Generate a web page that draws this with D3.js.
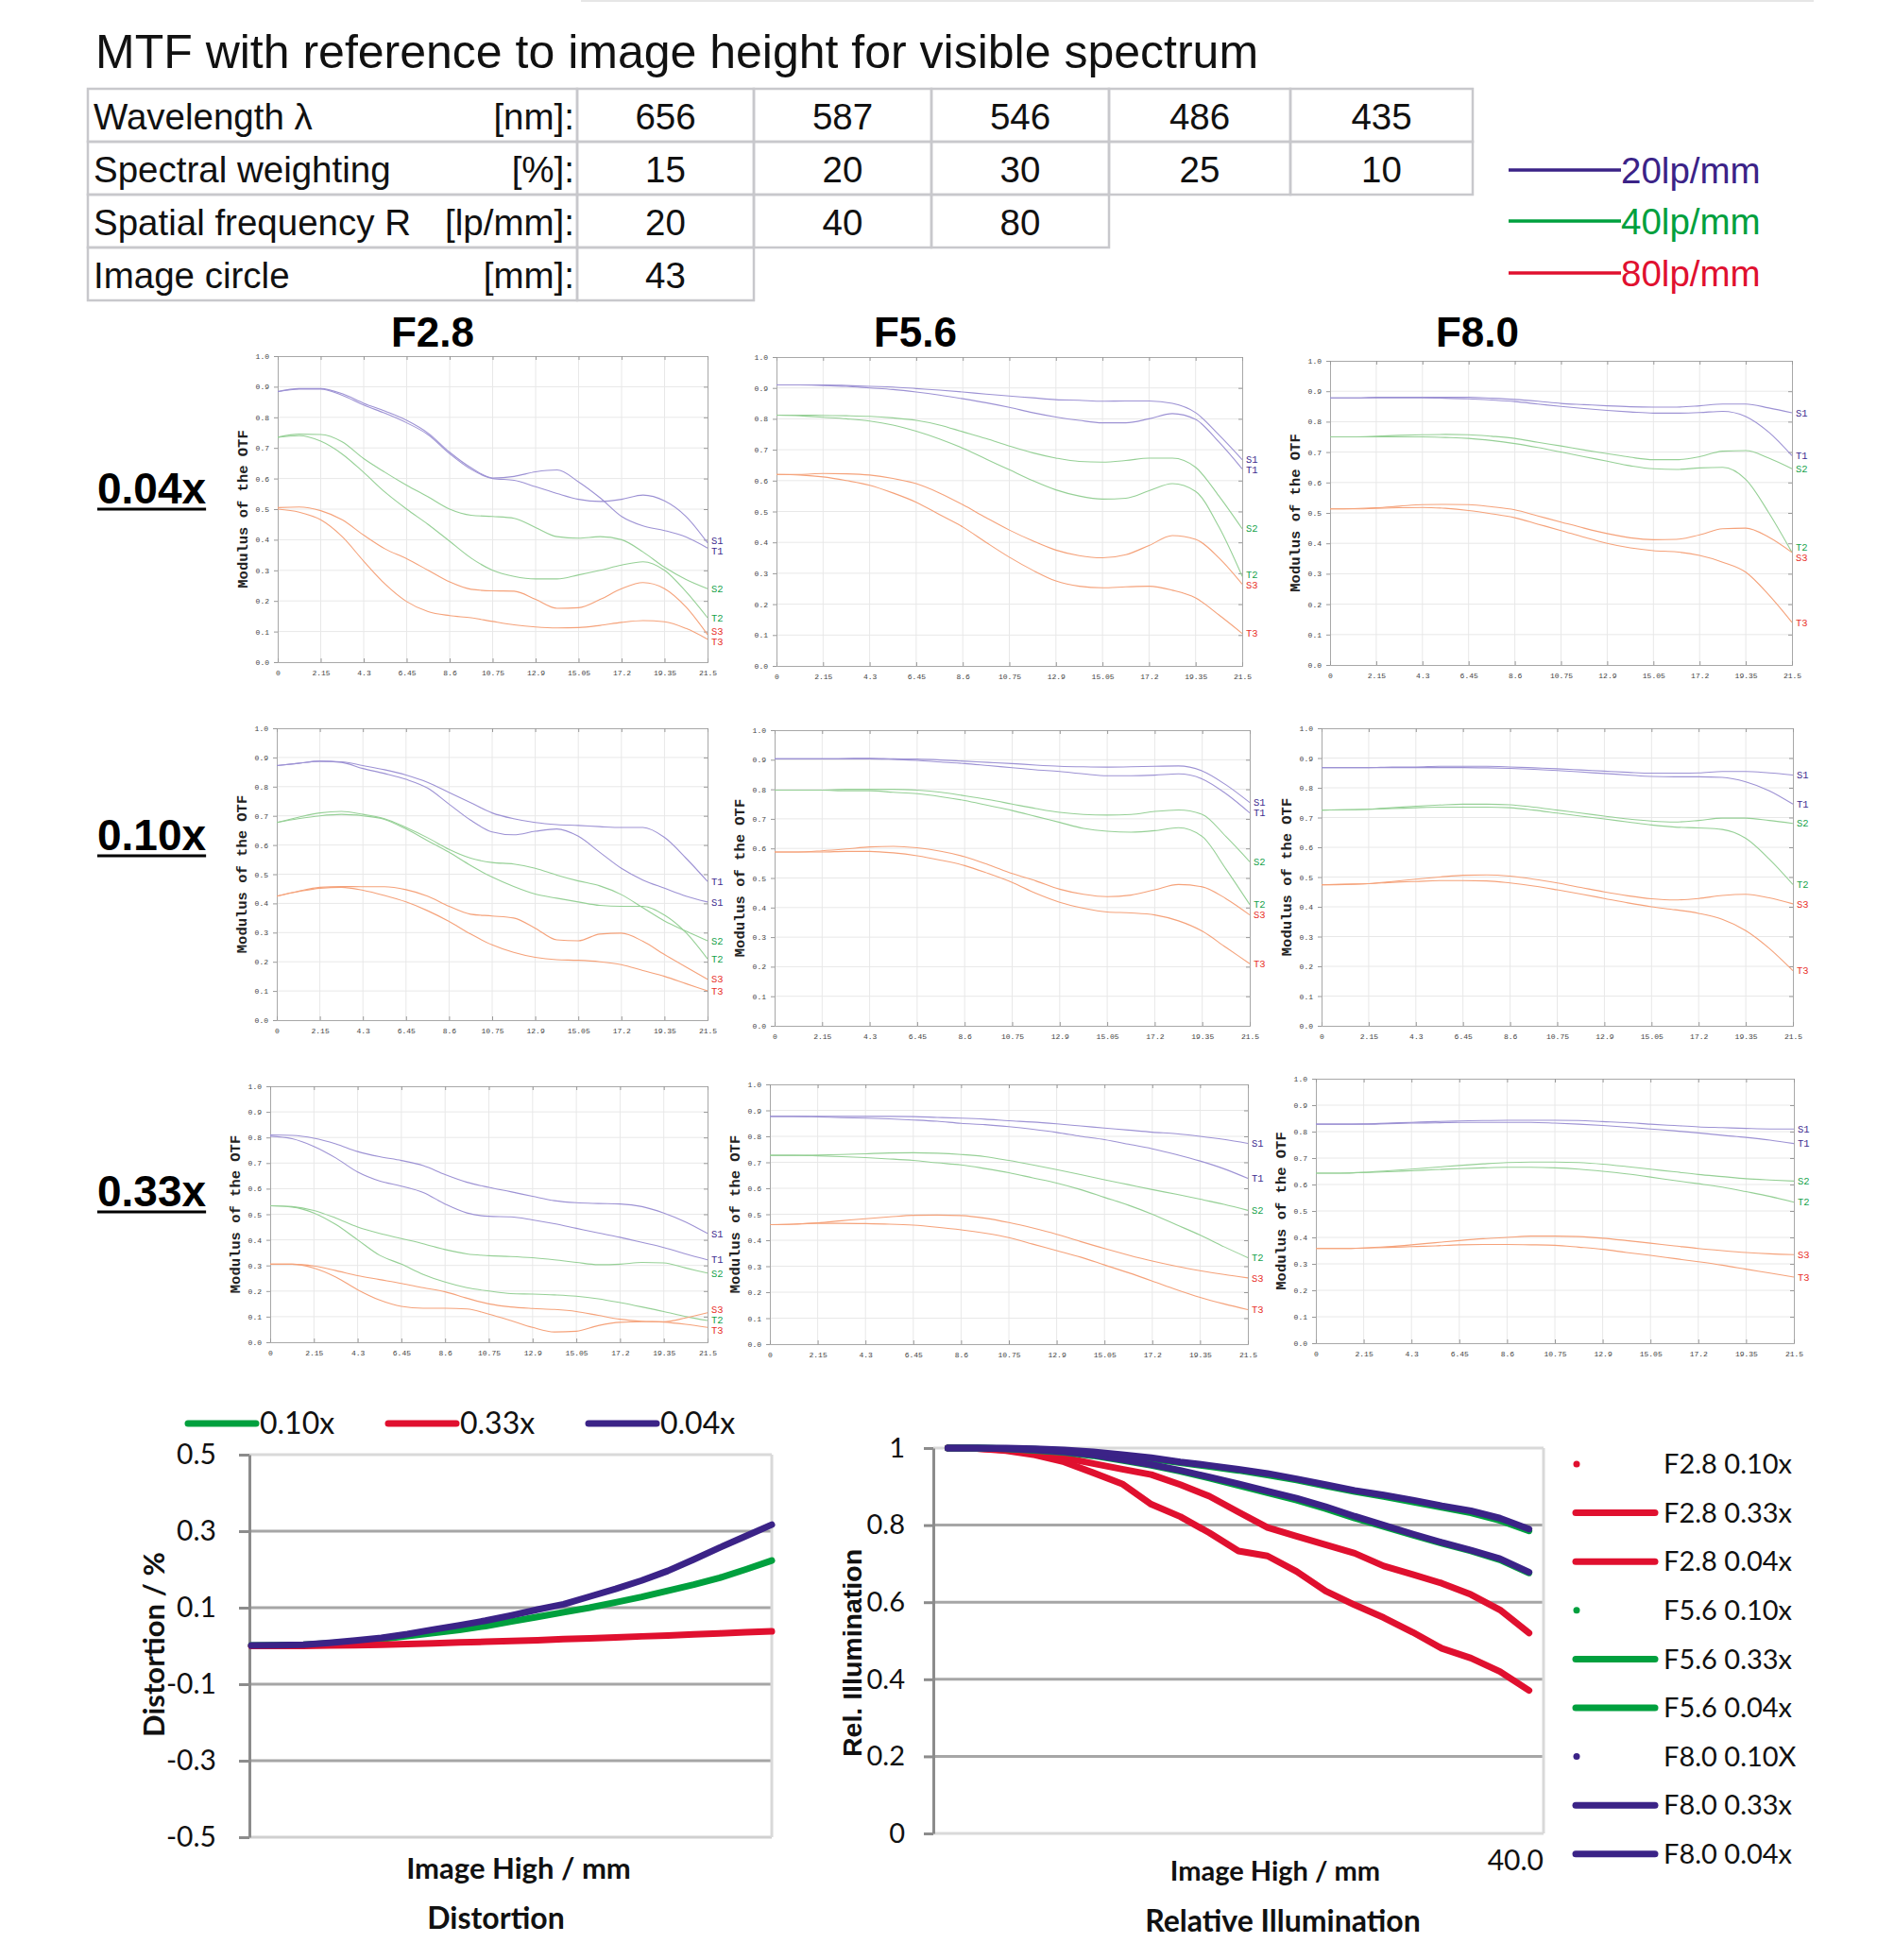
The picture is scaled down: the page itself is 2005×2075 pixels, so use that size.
<!DOCTYPE html>
<html><head><meta charset="utf-8">
<script src="https://cdn.jsdelivr.net/npm/d3@7"></script>
<style>body{margin:0;background:#fff}</style>
</head><body>
<svg id="c" width="2005" height="2075"></svg>
<script>
// ---------------- DATA ----------------
const titleText = "MTF with reference to image height for visible spectrum";
const tableLabels = ["Wavelength λ", "Spectral weighting", "Spatial frequency R", "Image circle"];
const tableUnits = ["[nm]:", "[%]:", "[lp/mm]:", "[mm]:"];
const wavelengths = ["656", "587", "546", "486", "435"];
const weights = ["15", "20", "30", "25", "10"];
const spatialFreq = ["20", "40", "80"];
const imageCircle = ["43"];
const lpLegend = ["20lp/mm", "40lp/mm", "80lp/mm"];
const apertures = ["F2.8", "F5.6", "F8.0"];
const magnifications = ["0.04x", "0.10x", "0.33x"];

const mtfXTickVals = [0, 2.15, 4.3, 6.45, 8.6, 10.75, 12.9, 15.05, 17.2, 19.35, 21.5];
const mtfXTickLabels = ["0", "2.15", "4.3", "6.45", "8.6", "10.75", "12.9", "15.05", "17.2", "19.35", "21.5"];
const mtfYTickVals = [0, 0.1, 0.2, 0.3, 0.4, 0.5, 0.6, 0.7, 0.8, 0.9, 1.0];
const mtfYTickLabels = ["0.0", "0.1", "0.2", "0.3", "0.4", "0.5", "0.6", "0.7", "0.8", "0.9", "1.0"];
// image height sample positions (mm)
const imageHeights = [0, 1.075, 2.15, 3.225, 4.3, 5.375, 6.45, 7.525, 8.6, 9.675, 10.75, 11.825, 12.9, 13.975, 15.05, 16.125, 17.2, 18.275, 19.35, 20.425, 21.5];
const seriesNames = ["S1", "T1", "S2", "T2", "S3", "T3"];

const mtf_F28_004 = {
  S1: [0.884,0.892,0.892,0.872,0.84,0.813,0.782,0.743,0.681,0.63,0.60,0.594,0.573,0.551,0.532,0.525,0.532,0.546,0.527,0.476,0.39],
  T1: [0.884,0.894,0.894,0.877,0.846,0.82,0.79,0.748,0.686,0.635,0.602,0.607,0.622,0.628,0.589,0.537,0.476,0.445,0.43,0.409,0.373],
  S2: [0.735,0.745,0.744,0.72,0.665,0.62,0.578,0.54,0.50,0.48,0.476,0.47,0.44,0.41,0.405,0.41,0.40,0.36,0.31,0.27,0.24],
  T2: [0.735,0.74,0.722,0.68,0.62,0.555,0.50,0.45,0.395,0.34,0.30,0.28,0.272,0.272,0.285,0.30,0.317,0.328,0.30,0.23,0.145],
  S3: [0.505,0.507,0.495,0.465,0.415,0.37,0.338,0.30,0.262,0.238,0.233,0.232,0.205,0.176,0.178,0.205,0.24,0.26,0.24,0.18,0.09],
  T3: [0.50,0.49,0.465,0.41,0.33,0.255,0.198,0.165,0.152,0.145,0.133,0.122,0.115,0.112,0.113,0.12,0.13,0.136,0.132,0.11,0.075]
};
const mtf_F56_004 = {
  S1: [0.91,0.91,0.91,0.908,0.905,0.903,0.898,0.893,0.887,0.88,0.874,0.868,0.862,0.86,0.857,0.858,0.858,0.85,0.82,0.748,0.668],
  T1: [0.91,0.91,0.908,0.905,0.90,0.895,0.887,0.877,0.865,0.852,0.837,0.82,0.806,0.795,0.787,0.787,0.80,0.817,0.798,0.725,0.638],
  S2: [0.812,0.812,0.811,0.81,0.808,0.803,0.795,0.78,0.758,0.736,0.712,0.69,0.673,0.662,0.66,0.665,0.673,0.673,0.643,0.55,0.444],
  T2: [0.812,0.81,0.805,0.80,0.793,0.78,0.76,0.735,0.705,0.67,0.635,0.60,0.57,0.55,0.54,0.543,0.567,0.59,0.565,0.45,0.29],
  S3: [0.62,0.62,0.623,0.622,0.618,0.607,0.59,0.56,0.522,0.48,0.44,0.405,0.375,0.357,0.35,0.36,0.39,0.422,0.41,0.35,0.265],
  T3: [0.62,0.618,0.612,0.60,0.585,0.56,0.53,0.49,0.45,0.40,0.352,0.31,0.275,0.258,0.253,0.256,0.258,0.245,0.22,0.165,0.105]
};
const mtf_F80_004 = {
  S1: [0.878,0.878,0.88,0.88,0.88,0.88,0.88,0.877,0.873,0.867,0.86,0.856,0.852,0.849,0.848,0.848,0.852,0.858,0.858,0.845,0.829],
  T1: [0.878,0.878,0.878,0.878,0.878,0.877,0.875,0.871,0.866,0.858,0.85,0.843,0.837,0.832,0.828,0.828,0.83,0.834,0.817,0.765,0.688],
  S2: [0.75,0.75,0.752,0.755,0.757,0.758,0.757,0.752,0.745,0.732,0.72,0.707,0.695,0.683,0.675,0.675,0.685,0.703,0.705,0.68,0.645],
  T2: [0.75,0.75,0.75,0.75,0.75,0.748,0.745,0.738,0.728,0.715,0.70,0.685,0.67,0.655,0.645,0.643,0.648,0.65,0.61,0.50,0.37],
  S3: [0.513,0.514,0.517,0.522,0.527,0.528,0.527,0.52,0.51,0.49,0.47,0.45,0.432,0.418,0.412,0.413,0.428,0.448,0.45,0.42,0.37],
  T3: [0.513,0.513,0.515,0.517,0.518,0.515,0.508,0.497,0.484,0.463,0.442,0.42,0.40,0.385,0.376,0.372,0.36,0.338,0.305,0.23,0.14]
};
const mtf_F28_010 = {
  S1: [0.872,0.88,0.887,0.883,0.862,0.845,0.825,0.795,0.74,0.685,0.645,0.635,0.647,0.655,0.63,0.575,0.52,0.48,0.452,0.425,0.405],
  T1: [0.872,0.88,0.887,0.885,0.872,0.858,0.84,0.815,0.78,0.745,0.71,0.69,0.677,0.67,0.667,0.663,0.66,0.66,0.626,0.555,0.475],
  S2: [0.677,0.695,0.71,0.715,0.705,0.69,0.66,0.625,0.585,0.555,0.54,0.535,0.52,0.497,0.477,0.46,0.43,0.385,0.34,0.305,0.272],
  T2: [0.677,0.69,0.70,0.705,0.70,0.688,0.655,0.615,0.575,0.53,0.49,0.458,0.432,0.418,0.405,0.393,0.39,0.39,0.36,0.30,0.21],
  S3: [0.425,0.442,0.455,0.458,0.457,0.457,0.447,0.425,0.39,0.363,0.357,0.35,0.315,0.275,0.272,0.295,0.298,0.27,0.225,0.182,0.14],
  T3: [0.425,0.44,0.452,0.455,0.445,0.427,0.405,0.375,0.338,0.295,0.258,0.232,0.215,0.207,0.205,0.20,0.19,0.17,0.15,0.125,0.10]
};
const mtf_F56_010 = {
  S1: [0.903,0.903,0.903,0.904,0.905,0.903,0.902,0.899,0.895,0.891,0.887,0.882,0.878,0.876,0.875,0.876,0.878,0.879,0.862,0.815,0.755],
  T1: [0.903,0.903,0.903,0.903,0.903,0.901,0.898,0.892,0.887,0.88,0.873,0.866,0.86,0.852,0.846,0.846,0.848,0.852,0.835,0.785,0.72],
  S2: [0.797,0.797,0.797,0.80,0.80,0.80,0.797,0.79,0.778,0.765,0.75,0.735,0.722,0.715,0.713,0.715,0.725,0.73,0.715,0.64,0.555],
  T2: [0.797,0.797,0.797,0.795,0.795,0.79,0.785,0.775,0.762,0.745,0.728,0.708,0.688,0.668,0.658,0.655,0.66,0.67,0.64,0.53,0.41],
  S3: [0.588,0.588,0.592,0.598,0.605,0.607,0.602,0.59,0.572,0.545,0.515,0.49,0.462,0.445,0.437,0.442,0.46,0.478,0.47,0.43,0.375],
  T3: [0.588,0.588,0.588,0.59,0.59,0.585,0.575,0.56,0.542,0.515,0.485,0.448,0.418,0.398,0.385,0.382,0.375,0.355,0.32,0.265,0.21]
};
const mtf_F80_010 = {
  S1: [0.868,0.868,0.868,0.87,0.87,0.872,0.872,0.872,0.87,0.867,0.864,0.86,0.856,0.852,0.849,0.849,0.85,0.855,0.855,0.85,0.843],
  T1: [0.868,0.868,0.868,0.868,0.868,0.868,0.868,0.867,0.865,0.862,0.858,0.853,0.848,0.843,0.838,0.837,0.837,0.835,0.82,0.79,0.745],
  S2: [0.725,0.726,0.728,0.733,0.738,0.742,0.745,0.745,0.743,0.735,0.725,0.715,0.705,0.695,0.688,0.685,0.69,0.698,0.698,0.69,0.68],
  T2: [0.725,0.726,0.728,0.73,0.733,0.735,0.735,0.735,0.733,0.725,0.715,0.705,0.695,0.685,0.675,0.668,0.665,0.66,0.63,0.56,0.475],
  S3: [0.474,0.475,0.478,0.485,0.493,0.50,0.506,0.507,0.503,0.493,0.48,0.465,0.45,0.437,0.427,0.423,0.428,0.438,0.442,0.43,0.41],
  T3: [0.474,0.476,0.478,0.482,0.485,0.488,0.488,0.487,0.48,0.47,0.457,0.443,0.428,0.413,0.40,0.39,0.378,0.358,0.32,0.26,0.185]
};
const mtf_F28_033 = {
  S1: [0.81,0.808,0.797,0.775,0.745,0.725,0.71,0.69,0.655,0.625,0.605,0.588,0.57,0.553,0.545,0.542,0.54,0.53,0.505,0.47,0.425],
  T1: [0.805,0.795,0.765,0.72,0.665,0.63,0.61,0.585,0.54,0.505,0.492,0.49,0.478,0.463,0.445,0.427,0.41,0.39,0.37,0.345,0.322],
  S2: [0.533,0.53,0.515,0.485,0.45,0.425,0.405,0.385,0.362,0.345,0.338,0.335,0.33,0.322,0.312,0.303,0.305,0.312,0.31,0.29,0.27],
  T2: [0.533,0.528,0.505,0.46,0.40,0.34,0.305,0.265,0.235,0.213,0.20,0.19,0.188,0.185,0.18,0.17,0.155,0.138,0.12,0.10,0.085],
  S3: [0.305,0.305,0.29,0.255,0.205,0.165,0.14,0.133,0.133,0.13,0.11,0.085,0.058,0.04,0.043,0.065,0.078,0.08,0.08,0.095,0.115],
  T3: [0.305,0.305,0.298,0.28,0.26,0.245,0.23,0.213,0.197,0.172,0.15,0.138,0.132,0.128,0.12,0.105,0.09,0.082,0.079,0.07,0.058]
};
const mtf_F56_033 = {
  S1: [0.877,0.877,0.877,0.877,0.877,0.877,0.876,0.873,0.87,0.866,0.86,0.855,0.848,0.84,0.832,0.824,0.816,0.81,0.80,0.788,0.773],
  T1: [0.877,0.877,0.875,0.872,0.87,0.867,0.863,0.858,0.85,0.845,0.837,0.827,0.815,0.80,0.787,0.77,0.752,0.73,0.705,0.675,0.638],
  S2: [0.727,0.727,0.728,0.73,0.733,0.736,0.737,0.735,0.73,0.722,0.707,0.69,0.672,0.653,0.633,0.614,0.595,0.577,0.558,0.538,0.515],
  T2: [0.727,0.727,0.725,0.722,0.718,0.713,0.707,0.698,0.69,0.676,0.66,0.64,0.62,0.595,0.565,0.535,0.50,0.46,0.42,0.375,0.333],
  S3: [0.46,0.462,0.467,0.475,0.483,0.49,0.496,0.497,0.495,0.485,0.468,0.447,0.423,0.395,0.368,0.343,0.32,0.30,0.283,0.268,0.255],
  T3: [0.46,0.462,0.465,0.465,0.464,0.462,0.458,0.45,0.44,0.427,0.41,0.385,0.36,0.335,0.305,0.275,0.243,0.21,0.18,0.155,0.133]
};
const mtf_F80_033 = {
  S1: [0.828,0.828,0.829,0.832,0.835,0.838,0.84,0.842,0.843,0.843,0.843,0.842,0.838,0.834,0.828,0.823,0.818,0.815,0.812,0.81,0.81],
  T1: [0.828,0.828,0.828,0.83,0.832,0.833,0.835,0.835,0.835,0.835,0.832,0.828,0.823,0.817,0.81,0.803,0.795,0.786,0.778,0.768,0.755],
  S2: [0.643,0.643,0.646,0.652,0.658,0.665,0.672,0.678,0.683,0.685,0.685,0.683,0.677,0.668,0.658,0.648,0.638,0.63,0.622,0.617,0.613],
  T2: [0.643,0.643,0.645,0.648,0.652,0.656,0.66,0.663,0.665,0.665,0.663,0.658,0.65,0.64,0.628,0.615,0.603,0.59,0.573,0.555,0.533],
  S3: [0.358,0.358,0.36,0.365,0.372,0.38,0.388,0.395,0.40,0.405,0.405,0.403,0.397,0.388,0.378,0.368,0.358,0.35,0.343,0.338,0.335],
  T3: [0.358,0.358,0.36,0.362,0.365,0.368,0.372,0.373,0.373,0.372,0.37,0.363,0.355,0.343,0.332,0.32,0.308,0.295,0.28,0.265,0.25]
};

// Distortion (%), samples across image height
const distortionLegend = ["0.10x", "0.33x", "0.04x"];
const distortion010 = [0.001,0.002,0.003,0.007,0.012,0.018,0.026,0.034,0.042,0.052,0.064,0.076,0.088,0.100,0.114,0.128,0.144,0.160,0.178,0.200,0.223];
const distortion033 = [0.0,0.0,0.0,0.001,0.002,0.003,0.005,0.007,0.009,0.011,0.013,0.015,0.018,0.020,0.022,0.025,0.027,0.030,0.033,0.036,0.038];
const distortion004 = [0.001,0.002,0.003,0.008,0.014,0.021,0.031,0.043,0.054,0.066,0.080,0.095,0.109,0.129,0.149,0.171,0.196,0.226,0.257,0.287,0.317];
const distortionTicks = [0.5, 0.3, 0.1, -0.1, -0.3, -0.5];

// Relative illumination
const relLegend = ["F2.8 0.10x","F2.8 0.33x","F2.8 0.04x","F5.6 0.10x","F5.6 0.33x","F5.6 0.04x","F8.0 0.10X","F8.0 0.33x","F8.0 0.04x"];
const relF28_033 = [1.0,0.999,0.993,0.982,0.964,0.936,0.907,0.854,0.822,0.78,0.733,0.72,0.68,0.629,0.593,0.56,0.522,0.48,0.455,0.42,0.371];
const relF28_004 = [1.0,0.999,0.995,0.987,0.975,0.96,0.945,0.931,0.905,0.875,0.834,0.794,0.771,0.749,0.727,0.694,0.672,0.649,0.62,0.58,0.52];
const relF56_033 = [1.0,1.0,0.998,0.994,0.989,0.98,0.968,0.955,0.94,0.922,0.903,0.884,0.865,0.843,0.818,0.796,0.774,0.753,0.733,0.71,0.676];
const relF56_004 = [1.0,1.0,0.999,0.997,0.993,0.988,0.981,0.972,0.962,0.952,0.942,0.93,0.917,0.902,0.887,0.874,0.86,0.846,0.832,0.812,0.785];
const relF80_033 = [1.0,1.0,0.998,0.995,0.99,0.982,0.97,0.957,0.942,0.925,0.907,0.888,0.87,0.848,0.823,0.80,0.777,0.755,0.735,0.713,0.678];
const relF80_004 = [1.0,1.0,1.0,0.998,0.995,0.99,0.983,0.975,0.964,0.955,0.945,0.934,0.92,0.905,0.89,0.878,0.865,0.85,0.837,0.818,0.79];
const relTickVals = [0, 0.2, 0.4, 0.6, 0.8, 1];
const relTickLabels = ["0", "0.2", "0.4", "0.6", "0.8", "1"];

// ---------------- STYLE ----------------
const PURPLE = "#3b2387", GREEN = "#00a03e", RED = "#e0102f";
const lineCol = {S1:"#9d92d4", T1:"#9d92d4", S2:"#96d096", T2:"#96d096", S3:"#f5a27a", T3:"#f5a27a"};
const labCol = {S1:"#3c2a8e", T1:"#3c2a8e", S2:"#14a24a", T2:"#14a24a", S3:"#e8302a", T3:"#e8302a"};
const ARIAL = "'Liberation Sans', Arial, sans-serif";
const CAL = "Lato, 'Open Sans', sans-serif";
const MONO = "'Liberation Mono', 'DejaVu Sans Mono', monospace";

const svg = d3.select("#c");
svg.append("rect").attr("width", 2005).attr("height", 2075).attr("fill", "#fff");
svg.append("line").attr("x1", 615).attr("x2", 1920).attr("y1", 1).attr("y2", 1)
  .attr("stroke", "#e6e6e6").attr("stroke-width", 2);

// Title
svg.append("text").attr("x", 101).attr("y", 72).attr("font-family", ARIAL)
  .attr("font-size", 50).attr("fill", "#111").text(titleText);

// Table
const colX = [93, 611, 798, 986, 1174, 1366, 1559];
const rowY = [94, 150, 206, 262, 318];
const rowValues = [wavelengths, weights, spatialFreq, imageCircle];
const tg = svg.append("g");
rowValues.forEach((vals, r) => {
  const y0 = rowY[r], h = rowY[r + 1] - rowY[r];
  tg.append("rect").attr("x", colX[0]).attr("y", y0).attr("width", colX[1] - colX[0]).attr("height", h)
    .attr("fill", "none").attr("stroke", "#c8c8cc").attr("stroke-width", 2.5);
  tg.append("text").attr("x", colX[0] + 6).attr("y", y0 + 43).attr("font-family", ARIAL).attr("font-size", 38.5)
    .attr("fill", "#111").text(tableLabels[r]);
  tg.append("text").attr("x", colX[1] - 3).attr("y", y0 + 43).attr("text-anchor", "end").attr("font-family", ARIAL)
    .attr("font-size", 38.5).attr("fill", "#111").text(tableUnits[r]);
  vals.forEach((v, i) => {
    tg.append("rect").attr("x", colX[i + 1]).attr("y", y0).attr("width", colX[i + 2] - colX[i + 1]).attr("height", h)
      .attr("fill", "none").attr("stroke", "#c8c8cc").attr("stroke-width", 2.5);
    tg.append("text").attr("x", (colX[i + 1] + colX[i + 2]) / 2).attr("y", y0 + 43).attr("text-anchor", "middle")
      .attr("font-family", ARIAL).attr("font-size", 38.5).attr("fill", "#111").text(v);
  });
});

// lp/mm legend
const lpColors = [PURPLE, GREEN, RED];
const lpY = [180, 234, 289];
lpLegend.forEach((t, i) => {
  svg.append("line").attr("x1", 1597).attr("x2", 1716).attr("y1", lpY[i]).attr("y2", lpY[i])
    .attr("stroke", lpColors[i]).attr("stroke-width", 3.5);
  svg.append("text").attr("x", 1716).attr("y", lpY[i] + 14).attr("font-family", ARIAL).attr("font-size", 38.5)
    .attr("fill", lpColors[i]).text(t);
});

// Column and row headers
const colCenters = [458, 969, 1564];
apertures.forEach((t, i) => {
  svg.append("text").attr("x", colCenters[i]).attr("y", 367).attr("text-anchor", "middle")
    .attr("font-family", ARIAL).attr("font-weight", "bold").attr("font-size", 44).attr("fill", "#000").text(t);
});
const rowBase = [533, 900, 1277];
magnifications.forEach((t, i) => {
  const tx = svg.append("text").attr("x", 103).attr("y", rowBase[i]).attr("font-family", ARIAL)
    .attr("font-weight", "bold").attr("font-size", 46).attr("fill", "#000").text(t);
  const w = tx.node().getComputedTextLength();
  svg.append("line").attr("x1", 103).attr("x2", 103 + w).attr("y1", rowBase[i] + 6).attr("y2", rowBase[i] + 6)
    .attr("stroke", "#000").attr("stroke-width", 3);
});

// MTF panels
const panels = [
  {d: mtf_F28_004, box: [294, 377, 749, 701], yt: true},
  {d: mtf_F56_004, box: [822, 378, 1315, 705], yt: false},
  {d: mtf_F80_004, box: [1408, 382, 1897, 704], yt: true},
  {d: mtf_F28_010, box: [293, 771, 749, 1080], yt: true},
  {d: mtf_F56_010, box: [820, 773, 1323, 1086], yt: true},
  {d: mtf_F80_010, box: [1399, 771, 1898, 1086], yt: true},
  {d: mtf_F28_033, box: [286, 1150, 749, 1421], yt: true},
  {d: mtf_F56_033, box: [815, 1148, 1321, 1423], yt: true},
  {d: mtf_F80_033, box: [1393, 1142, 1899, 1422], yt: true}
];

panels.forEach(p => {
  const [l, t, r, b] = p.box;
  const x = d3.scaleLinear().domain([0, 21.5]).range([l, r]);
  const y = d3.scaleLinear().domain([0, 1]).range([b, t]);
  const g = svg.append("g");
  // grid
  g.selectAll(".vg").data(mtfXTickVals.slice(1, -1)).join("line")
    .attr("x1", d => x(d)).attr("x2", d => x(d)).attr("y1", t).attr("y2", b)
    .attr("stroke", "#e8e8e8").attr("stroke-width", 1);
  g.selectAll(".hg").data(mtfYTickVals.slice(1, -1)).join("line")
    .attr("x1", l).attr("x2", r).attr("y1", d => y(d)).attr("y2", d => y(d))
    .attr("stroke", "#e8e8e8").attr("stroke-width", 1);
  // axes
  const ax = g.append("g").attr("transform", `translate(${l},0)`)
    .call(d3.axisLeft(y).tickValues(mtfYTickVals).tickFormat((d, i) => mtfYTickLabels[i]).tickSize(4).tickPadding(5));
  const axr = g.append("g").attr("transform", `translate(${r},0)`)
    .call(d3.axisLeft(y).tickValues(mtfYTickVals).tickFormat("").tickSize(4));
  const bx = g.append("g").attr("transform", `translate(0,${b})`)
    .call(d3.axisBottom(x).tickValues(mtfXTickVals).tickFormat((d, i) => mtfXTickLabels[i]).tickSize(-4).tickPadding(8));
  const tx = g.append("g").attr("transform", `translate(0,${t})`)
    .call(d3.axisTop(x).tickValues(mtfXTickVals).tickFormat("").tickSize(-4));
  [ax, axr, bx, tx].forEach(a => {
    a.select(".domain").attr("stroke", "#a8a8a8");
    a.selectAll(".tick line").attr("stroke", "#999");
    a.selectAll("text").attr("font-family", MONO).attr("font-size", 8).attr("fill", "#444");
  });
  axr.selectAll(".tick line").attr("x2", -4);
  // curves
  const line = d3.line().x((d, i) => x(imageHeights[i])).y(d => y(d)).curve(d3.curveMonotoneX);
  seriesNames.forEach(s => {
    g.append("path").attr("d", line(p.d[s])).attr("fill", "none").attr("stroke", lineCol[s]).attr("stroke-width", 1.1);
  });
  // end labels with collision avoidance
  const labs = seriesNames.map(s => ({s, y: y(p.d[s][p.d[s].length - 1])})).sort((a, c) => a.y - c.y);
  const gap = 11;
  for (let it = 0; it < 60; it++) {
    for (let k = 1; k < labs.length; k++) {
      const ov = gap - (labs[k].y - labs[k - 1].y);
      if (ov > 0) { labs[k].y += ov / 2; labs[k - 1].y -= ov / 2; }
    }
  }
  labs.forEach(o => {
    g.append("text").attr("x", r + 4).attr("y", o.y).attr("dy", "0.35em").attr("font-family", MONO)
      .attr("font-size", 10.5).attr("fill", labCol[o.s]).text(o.s);
  });
  if (p.yt) {
    g.append("text").attr("transform", `translate(${l - 37},${(t + b) / 2}) rotate(-90)`)
      .attr("text-anchor", "middle").attr("dy", "0.35em").attr("font-family", MONO).attr("font-weight", "bold")
      .attr("font-size", 15.5).attr("fill", "#222").text("Modulus of the OTF");
  }
});

// ---------------- Distortion chart ----------------
(function () {
  const l = 264, r = 817, t = 1540, b = 1945;
  const n = distortion004.length;
  const x = d3.scaleLinear().domain([0, n - 1]).range([l + 2, r]);
  const y = d3.scaleLinear().domain([-0.5, 0.5]).range([b, t]);
  const g = svg.append("g");
  g.selectAll(".gl").data(distortionTicks.filter(v => Math.abs(v) < 0.45)).join("line")
    .attr("x1", l).attr("x2", r).attr("y1", d => y(d)).attr("y2", d => y(d))
    .attr("stroke", "#a6a6a6").attr("stroke-width", 3);
  g.append("line").attr("x1", l).attr("x2", r).attr("y1", t).attr("y2", t).attr("stroke", "#d9d9d9").attr("stroke-width", 3);
  g.append("line").attr("x1", l).attr("x2", r).attr("y1", b).attr("y2", b).attr("stroke", "#d0d0d0").attr("stroke-width", 3);
  g.append("line").attr("x1", r).attr("x2", r).attr("y1", t).attr("y2", b).attr("stroke", "#d9d9d9").attr("stroke-width", 3);
  const ax = g.append("g").attr("transform", `translate(${l},0)`)
    .call(d3.axisLeft(y).tickValues(distortionTicks).tickFormat(d => d.toFixed(1)).tickSize(11).tickPadding(24).tickSizeOuter(0));
  ax.select(".domain").attr("stroke", "#8c8c8c").attr("stroke-width", 3);
  ax.selectAll(".tick line").attr("stroke", "#8c8c8c").attr("stroke-width", 3);
  ax.selectAll("text").attr("font-family", CAL).attr("font-size", 30).attr("fill", "#111");
  const line = d3.line().x((d, i) => x(i)).y(d => y(d));
  const series = [[distortion010, GREEN], [distortion033, RED], [distortion004, PURPLE]];
  series.forEach(([d, c]) => {
    g.append("path").attr("d", line(d)).attr("fill", "none").attr("stroke", c).attr("stroke-width", 7)
      .attr("stroke-linejoin", "round").attr("stroke-linecap", "round");
  });
  // legend
  const lx = [199, 411, 623];
  const lc = [GREEN, RED, PURPLE];
  distortionLegend.forEach((t2, i) => {
    g.append("line").attr("x1", lx[i]).attr("x2", lx[i] + 72).attr("y1", 1507).attr("y2", 1507)
      .attr("stroke", lc[i]).attr("stroke-width", 7).attr("stroke-linecap", "round");
    g.append("text").attr("x", lx[i] + 76).attr("y", 1507).attr("dy", "0.35em").attr("font-family", CAL)
      .attr("font-size", 32).attr("fill", "#111").text(t2);
  });
  g.append("text").attr("transform", `translate(163,1741) rotate(-90)`).attr("text-anchor", "middle")
    .attr("dy", "0.35em").attr("font-family", CAL).attr("font-weight", "bold").attr("font-size", 31)
    .attr("fill", "#111").text("Distortion / %");
  g.append("text").attr("x", 549).attr("y", 1978).attr("dy", "0.35em").attr("text-anchor", "middle")
    .attr("font-family", CAL).attr("font-weight", "bold").attr("font-size", 31).attr("fill", "#111").text("Image High / mm");
  g.append("text").attr("x", 525).attr("y", 2031).attr("dy", "0.35em").attr("text-anchor", "middle")
    .attr("font-family", CAL).attr("font-weight", "bold").attr("font-size", 32).attr("fill", "#111").text("Distortion");
})();

// ---------------- Relative illumination chart ----------------
(function () {
  const l = 988, r = 1634, t = 1533, b = 1941;
  const n = relF28_033.length;
  const x = d3.scalePoint().domain(d3.range(n)).range([l, r]).padding(0.5);
  const y = d3.scaleLinear().domain([0, 1]).range([b, t]);
  const g = svg.append("g");
  g.selectAll(".gl").data(relTickVals.filter(v => v > 0 && v < 1)).join("line")
    .attr("x1", l).attr("x2", r).attr("y1", d => y(d)).attr("y2", d => y(d))
    .attr("stroke", "#a6a6a6").attr("stroke-width", 3);
  g.append("line").attr("x1", l).attr("x2", r).attr("y1", t).attr("y2", t).attr("stroke", "#d9d9d9").attr("stroke-width", 3);
  g.append("line").attr("x1", l).attr("x2", r).attr("y1", b).attr("y2", b).attr("stroke", "#d9d9d9").attr("stroke-width", 3);
  g.append("line").attr("x1", r).attr("x2", r).attr("y1", t).attr("y2", b).attr("stroke", "#d9d9d9").attr("stroke-width", 3);
  const ax = g.append("g").attr("transform", `translate(${l},0)`)
    .call(d3.axisLeft(y).tickValues(relTickVals).tickFormat((d, i) => relTickLabels[i]).tickSize(10).tickPadding(20).tickSizeOuter(0));
  ax.select(".domain").attr("stroke", "#8c8c8c").attr("stroke-width", 3);
  ax.selectAll(".tick line").attr("stroke", "#8c8c8c").attr("stroke-width", 3);
  ax.selectAll("text").attr("font-family", CAL).attr("font-size", 29).attr("fill", "#111");
  const line = d3.line().x((d, i) => x(i)).y(d => y(d));
  const series = [[relF28_004, RED], [relF28_033, RED], [relF56_004, GREEN], [relF56_033, GREEN], [relF80_033, PURPLE], [relF80_004, PURPLE]];
  series.forEach(([d, c]) => {
    g.append("path").attr("d", line(d)).attr("fill", "none").attr("stroke", c).attr("stroke-width", 7)
      .attr("stroke-linejoin", "round").attr("stroke-linecap", "round");
  });
  // legend
  const legCol = [RED, RED, RED, GREEN, GREEN, GREEN, PURPLE, PURPLE, PURPLE];
  relLegend.forEach((t2, i) => {
    const yy = 1550 + i * 51.6;
    if (i % 3 === 0) {
      g.append("circle").attr("cx", 1669).attr("cy", yy).attr("r", 3.5).attr("fill", legCol[i]);
    } else {
      g.append("line").attr("x1", 1668).attr("x2", 1752).attr("y1", yy).attr("y2", yy)
        .attr("stroke", legCol[i]).attr("stroke-width", 7).attr("stroke-linecap", "round");
    }
    g.append("text").attr("x", 1761).attr("y", yy).attr("dy", "0.35em").attr("font-family", CAL)
      .attr("font-size", 29).attr("fill", "#111").text(t2);
  });
  g.append("text").attr("x", r).attr("y", 1969).attr("dy", "0.35em").attr("text-anchor", "end")
    .attr("font-family", CAL).attr("font-size", 30).attr("fill", "#111").text("40.0");
  g.append("text").attr("transform", `translate(902,1750) rotate(-90)`).attr("text-anchor", "middle")
    .attr("dy", "0.35em").attr("font-family", ARIAL).attr("font-weight", "bold").attr("font-size", 28.5)
    .attr("fill", "#111").text("Rel. Illumination");
  g.append("text").attr("x", 1350).attr("y", 1981).attr("dy", "0.35em").attr("text-anchor", "middle")
    .attr("font-family", CAL).attr("font-weight", "bold").attr("font-size", 29).attr("fill", "#111").text("Image High / mm");
  g.append("text").attr("x", 1358).attr("y", 2034).attr("dy", "0.35em").attr("text-anchor", "middle")
    .attr("font-family", CAL).attr("font-weight", "bold").attr("font-size", 32).attr("fill", "#111").text("Relative Illumination");
})();
</script>
</body></html>
